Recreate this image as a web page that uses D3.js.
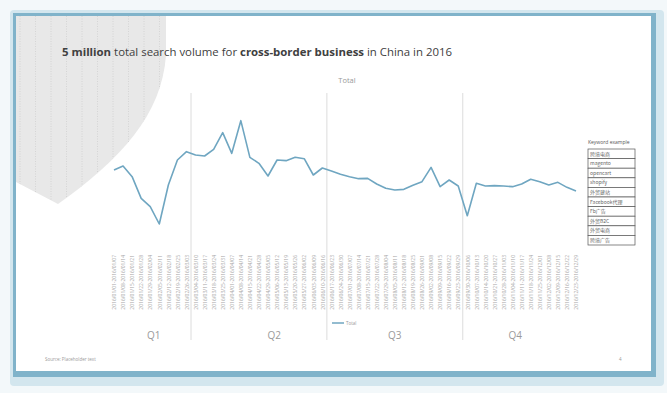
<!DOCTYPE html>
<html>
<head>
<meta charset="utf-8">
<script src="https://cdn.jsdelivr.net/npm/d3@7"></script>
<style>
  body { margin: 0; background: #f3f8fa; }
  svg { display: block; font-family: "Open Sans", sans-serif; }
</style>
</head>
<body>
<svg width="667" height="393"></svg>
<script>
// weekly buckets, 2016
const weeks = [
  "2016/01/01-2016/01/07", "2016/01/08-2016/01/14", "2016/01/15-2016/01/21", "2016/01/22-2016/01/28",
  "2016/01/29-2016/02/04", "2016/02/05-2016/02/11", "2016/02/12-2016/02/18", "2016/02/19-2016/02/25",
  "2016/02/26-2016/03/03", "2016/03/04-2016/03/10", "2016/03/11-2016/03/17", "2016/03/18-2016/03/24",
  "2016/03/25-2016/03/31", "2016/04/01-2016/04/07", "2016/04/08-2016/04/14", "2016/04/15-2016/04/21",
  "2016/04/22-2016/04/28", "2016/04/29-2016/05/05", "2016/05/06-2016/05/12", "2016/05/13-2016/05/19",
  "2016/05/20-2016/05/26", "2016/05/27-2016/06/02", "2016/06/03-2016/06/09", "2016/06/10-2016/06/16",
  "2016/06/17-2016/06/23", "2016/06/24-2016/06/30", "2016/07/01-2016/07/07", "2016/07/08-2016/07/14",
  "2016/07/15-2016/07/21", "2016/07/22-2016/07/28", "2016/07/29-2016/08/04", "2016/08/05-2016/08/11",
  "2016/08/12-2016/08/18", "2016/08/19-2016/08/25", "2016/08/26-2016/09/01", "2016/09/02-2016/09/08",
  "2016/09/09-2016/09/15", "2016/09/16-2016/09/22", "2016/09/23-2016/09/29", "2016/09/30-2016/10/06",
  "2016/10/07-2016/10/13", "2016/10/14-2016/10/20", "2016/10/21-2016/10/27", "2016/10/28-2016/11/03",
  "2016/11/04-2016/11/10", "2016/11/11-2016/11/17", "2016/11/18-2016/11/24", "2016/11/25-2016/12/01",
  "2016/12/02-2016/12/08", "2016/12/09-2016/12/15", "2016/12/16-2016/12/22", "2016/12/23-2016/12/29"
];

// total search volume per week (thousands)
const totals = [
  105, 111, 95, 62.5, 50, 24, 82.5, 120, 132.5, 127.5, 126, 136, 161,
  130, 179, 124, 115, 96, 120, 119, 124, 122, 97.5, 108, 103.5, 98.5,
  95, 92, 92.5, 84, 77.5, 75, 76, 82, 87.5, 109, 80, 90, 81,
  36.5, 85, 81, 81.5, 81, 80, 84, 91, 87.5, 82.5, 86.5, 79, 73.5
];

const keywords = ["跨境电商", "magento", "opencart", "shopify", "外贸建站",
  "Facebook代理", "Fb广告", "外贸B2C", "外贸电商", "跨境广告"];

const quarters = ["Q1", "Q2", "Q3", "Q4"];
const quarterPos = [4.4, 17.7, 31, 44.3];   // in week steps
const dividerAfter = [8, 23, 38];           // divider sits after these weeks

const svg = d3.select("svg");

// slide frame
svg.append("rect").attr("x", 10).attr("y", 10).attr("width", 654).attr("height", 376)
  .attr("rx", 4).attr("fill", "#d3e6ee");
svg.append("rect").attr("x", 13).attr("y", 13).attr("width", 643).attr("height", 364)
  .attr("fill", "#80b3ca");
svg.append("rect").attr("x", 16).attr("y", 16).attr("width", 635).attr("height", 355)
  .attr("fill", "#fff");

// grey decoration top-left
const deco = "M16,16 L166,16 L166,55 C162,115 120,160 58,204 L16,182 Z";
svg.append("clipPath").attr("id", "decoClip").append("path").attr("d", deco);
svg.append("path").attr("d", deco).attr("fill", "#e8e8e8");
svg.append("g").attr("clip-path", "url(#decoClip)")
  .selectAll("line").data(d3.range(20, 170, 15.5)).enter().append("line")
  .attr("x1", d => d).attr("x2", d => d).attr("y1", 16).attr("y2", 210)
  .attr("stroke", "#cfcfcf").attr("stroke-width", 0.8).attr("stroke-dasharray", "1,1.5");

// title
const title = svg.append("text").attr("x", 62).attr("y", 56)
  .attr("font-size", 11.4).attr("fill", "#404040");
title.append("tspan").attr("font-weight", "bold").text("5 million");
title.append("tspan").text(" total search volume for ");
title.append("tspan").attr("font-weight", "bold").text("cross-border business");
title.append("tspan").text(" in China in 2016");

svg.append("text").attr("x", 347).attr("y", 83).attr("text-anchor", "middle")
  .attr("font-size", 7.5).attr("fill", "#9a9a9a").text("Total");

const x = d3.scalePoint().domain(weeks).range([114, 576]);
const y = d3.scaleLinear().domain([0, 225]).range([240, 90]);

// quarter dividers
svg.append("g").selectAll("line").data(dividerAfter).enter().append("line")
  .attr("x1", d => x(weeks[d]) + x.step() / 2)
  .attr("x2", d => x(weeks[d]) + x.step() / 2)
  .attr("y1", 93).attr("y2", 340)
  .attr("stroke", "#dcdcdc").attr("stroke-width", 1);

// x axis with rotated week labels
const xAxis = svg.append("g").attr("transform", "translate(0,253)")
  .call(d3.axisBottom(x).tickSize(0));
xAxis.select(".domain").remove();
xAxis.selectAll("text")
  .attr("transform", "rotate(-90)")
  .attr("text-anchor", "end")
  .attr("x", -2).attr("y", 0).attr("dy", "0.35em")
  .attr("font-size", 5).attr("font-family", "Open Sans, sans-serif")
  .attr("fill", "#a8a8a8");

// quarter labels
svg.append("g").selectAll("text").data(quarters).enter().append("text")
  .attr("x", (d, i) => x(weeks[0]) + quarterPos[i] * x.step())
  .attr("y", 339).attr("text-anchor", "middle")
  .attr("font-size", 10).attr("fill", "#9a9a9a").text(d => d);

// the line
const line = d3.line().x((d, i) => x(weeks[i])).y(d => y(d));
svg.append("path").datum(totals).attr("d", line)
  .attr("fill", "none").attr("stroke", "#6fa6c1").attr("stroke-width", 1.6)
  .attr("stroke-linejoin", "round");

// small series legend
svg.append("line").attr("x1", 332).attr("x2", 344).attr("y1", 323).attr("y2", 323)
  .attr("stroke", "#6fa6c1").attr("stroke-width", 1.5);
svg.append("text").attr("x", 346).attr("y", 324.5).attr("font-size", 4.5)
  .attr("fill", "#999").text("Total");

// keyword box
const kx = 588, ky = 149, kw = 47, kh = 9.6;
svg.append("text").attr("x", kx).attr("y", 144).attr("font-size", 5)
  .attr("fill", "#555").text("Keyword example");
const rows = svg.append("g").selectAll("g").data(keywords).enter().append("g")
  .attr("transform", (d, i) => `translate(${kx},${ky + i * kh})`);
rows.append("rect").attr("width", kw).attr("height", kh)
  .attr("fill", "#fff").attr("stroke", "#555").attr("stroke-width", 0.7);
rows.append("text").attr("x", 2).attr("y", kh / 2).attr("dy", "0.35em")
  .attr("font-size", 5).attr("fill", "#666")
  .attr("font-family", "Noto Sans CJK SC, Open Sans, sans-serif").text(d => d);

// footer
svg.append("text").attr("x", 45).attr("y", 361).attr("font-size", 4.5)
  .attr("fill", "#999").text("Source: Placeholder text");
svg.append("text").attr("x", 619).attr("y", 361).attr("font-size", 4.5)
  .attr("fill", "#999").text("4");
</script>
</body>
</html>
